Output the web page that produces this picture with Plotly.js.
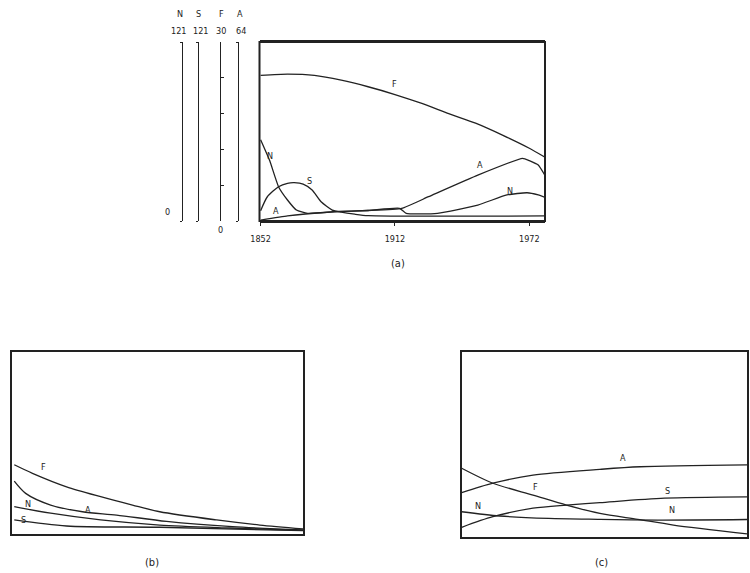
<!DOCTYPE html>
<html>
<head>
<meta charset="utf-8">
<script src="https://cdn.plot.ly/plotly-3.0.1.min.js"></script>
<style>
  html, body { margin: 0; padding: 0; background: #ffffff; }
  #chart { width: 750px; height: 573px; }
</style>
</head>
<body>
<div id="chart"></div>
<script>
// ---- Panel (a): historical series, each on its own vertical scale ----
const yearsNa = [1852, 1856, 1860, 1864, 1868, 1873, 1885, 1900, 1914, 1917, 1931, 1949, 1962, 1971, 1976, 1979];
const valuesNa = [55, 41, 23.2, 14.2, 7.4, 5.2, 6.3, 7.1, 8.6, 5.2, 5.2, 10.8, 17.6, 19.1, 17.6, 16.0];

const yearsSa = [1852, 1855, 1860, 1864, 1867, 1871, 1875, 1879, 1884, 1888, 1894, 1900, 1979];
const valuesSa = [7, 16.4, 23.2, 25.5, 25.9, 25.0, 21.0, 13.0, 7.4, 6.0, 4.6, 3.6, 3.4];

const yearsFa = [1852, 1864, 1876, 1888, 1900, 1912, 1924, 1936, 1948, 1960, 1972, 1979];
const valuesFa = [24.4, 24.6, 24.4, 23.6, 22.5, 21.2, 19.7, 18.0, 16.4, 14.4, 12.2, 10.7];

const yearsAa = [1852, 1864, 1872, 1885, 1900, 1915, 1927, 1949, 1969, 1972, 1976, 1979];
const valuesAa = [0.3, 1.8, 2.5, 3.3, 3.75, 4.5, 8.7, 16.4, 22.4, 21.6, 20.0, 16.3];

// full-scale value of each series axis
const scaleNames = ["N", "S", "F", "A"];
const scaleMax = [121, 121, 30, 64];
const yearTicks = [1852, 1912, 1972];

// ---- Panel (b) ----
const yearsFb = [1852, 1860, 1875, 1890, 1904, 1916, 1941, 1960, 1979];
const valuesFb = [38, 33.3, 25.9, 20.5, 15.9, 12.2, 7.7, 4.9, 2.8];
const yearsAb = [1852, 1857, 1868, 1882, 1897, 1919, 1948, 1979];
const valuesAb = [29, 22.3, 15.9, 12.2, 10.4, 6.9, 4.0, 2.2];
const yearsNb = [1852, 1868, 1890, 1916, 1947, 1979];
const valuesNb = [15.0, 11.4, 7.7, 4.9, 3.3, 2.0];
const yearsSb = [1852, 1875, 1916, 1979];
const valuesSb = [7.7, 4.4, 3.7, 1.8];

// ---- Panel (c) ----
const yearsFc = [1851, 1865, 1883, 1898, 1913, 1930, 1946, 1979];
const valuesFc = [37.0, 28.9, 22.5, 17.1, 12.6, 9.4, 6.3, 1.5];
const yearsAc = [1851, 1865, 1883, 1913, 1931, 1979];
const valuesAc = [23.8, 28.9, 33.3, 36.4, 37.8, 38.8];
const yearsSc = [1851, 1865, 1883, 1898, 1913, 1942, 1979];
const valuesSc = [5.1, 10.8, 15.4, 17.1, 18.4, 20.8, 21.5];
const yearsNc = [1851, 1868, 1890, 1913, 1939, 1979];
const valuesNc = [13.5, 11.2, 9.9, 9.4, 9.0, 9.3];

const INK = "#222222";
const W = 750, H = 573;
const px = x => x / W;
const py = y => 1 - y / H;
const FONT = "DejaVu Sans Condensed, DejaVu Sans, sans-serif";

function line(x, y, xa, ya, smooth) {
  return {
    x: x, y: y, xaxis: xa, yaxis: ya, type: "scatter", mode: "lines",
    line: { color: INK, width: 1.3, shape: "spline", smoothing: smooth },
    hoverinfo: "skip", showlegend: false, cliponaxis: true
  };
}

// F lives on the base axis of panel (a); N, S and A overlay it
const traces = [
  line(yearsFa, valuesFa, "x", "y", 0.6),
  line(yearsNa, valuesNa, "x", "y2", 0.5),
  line(yearsSa, valuesSa, "x", "y3", 0.6),
  line(yearsAa, valuesAa, "x", "y4", 0.4),
  line(yearsFb, valuesFb, "x2", "y6", 0.8),
  line(yearsAb, valuesAb, "x2", "y6", 0.8),
  line(yearsNb, valuesNb, "x2", "y6", 0.8),
  line(yearsSb, valuesSb, "x2", "y6", 0.8),
  line(yearsFc, valuesFc, "x3", "y7", 0.8),
  line(yearsAc, valuesAc, "x3", "y7", 0.8),
  line(yearsSc, valuesSc, "x3", "y7", 0.8),
  line(yearsNc, valuesNc, "x3", "y7", 0.8)
];

const frame = {
  showline: true, mirror: true, linecolor: INK, linewidth: 2,
  showgrid: false, zeroline: false, ticks: "", showticklabels: false, fixedrange: true
};

// vertical scale bars standing left of panel (a)
const scaleX = [182.3, 198.3, 220, 238.3];
function scaleAxis(i, base) {
  const isF = scaleNames[i] === "F";
  const ax = {
    anchor: "free", position: px(scaleX[i]), side: "left",
    range: [0, scaleMax[i]], showline: true, linecolor: INK, linewidth: 1.1,
    showgrid: false, zeroline: false, showticklabels: false,
    tickmode: "array",
    tickvals: isF ? [0, 6, 12, 18, 24, 30] : [0, scaleMax[i]],
    ticks: isF ? "inside" : "outside", ticklen: isF ? 3 : 2, tickwidth: 1, tickcolor: INK,
    fixedrange: true
  };
  if (base) ax.domain = [py(221), py(42)];
  else ax.overlaying = "y";
  return ax;
}

const layout = {
  width: W, height: H, autosize: false,
  margin: { l: 0, r: 0, t: 0, b: 0, pad: 0 },
  paper_bgcolor: "#ffffff", plot_bgcolor: "rgba(0,0,0,0)",
  font: { family: FONT, color: INK, size: 9 },
  showlegend: false,
  xaxis: {
    domain: [px(259.5), px(545)], range: [1851.5, 1979], anchor: "y",
    showline: true, mirror: true, linecolor: INK, linewidth: 2,
    showgrid: false, zeroline: false, fixedrange: true,
    tickmode: "array", tickvals: yearTicks, ticktext: yearTicks.map(String),
    ticks: "outside", ticklen: 3, tickcolor: INK, showticklabels: true,
    ticklabelstandoff: 5, tickfont: { size: 9, color: INK, family: FONT }
  },
  yaxis: scaleAxis(2, true),
  yaxis2: scaleAxis(0, false),
  yaxis3: scaleAxis(1, false),
  yaxis4: scaleAxis(3, false),
  xaxis2: Object.assign({}, frame, { domain: [px(12), px(303)], range: [1851, 1979], anchor: "y6" }),
  yaxis6: Object.assign({}, frame, { domain: [py(534), py(351.7)], range: [0, 100], anchor: "x2" }),
  xaxis3: Object.assign({}, frame, { domain: [px(461.7), px(747)], range: [1851, 1979], anchor: "y7" }),
  yaxis7: Object.assign({}, frame, { domain: [py(536.7), py(351.7)], range: [0, 100], anchor: "x3" }),
  // box round panel (a)
  shapes: [{
    type: "rect", xref: "x domain", yref: "y domain", x0: 0, x1: 1, y0: 0, y1: 1,
    line: { color: INK, width: 2 }, fillcolor: "rgba(0,0,0,0)", layer: "above"
  }],
  annotations: []
};

function note(text, x, y, size) {
  layout.annotations.push({
    text: text, x: px(x), y: py(y), xref: "paper", yref: "paper",
    xanchor: "center", yanchor: "middle", showarrow: false,
    font: { size: size || 9, color: INK, family: FONT }
  });
}

// scale headings and their full-scale values
const headX = [180, 199, 221, 240];
const valX = [178.5, 200, 221, 241];
scaleNames.forEach((n, i) => {
  note(n, headX[i], 14, 9);
  note(String(scaleMax[i]), valX[i], 30.5, 9);
});
note("0", 167, 212, 9);
note("0", 220, 230, 9);

// curve labels, panel (a)
note("F", 395, 84);
note("N", 270, 156);
note("S", 309, 181);
note("A", 276, 211);
note("A", 480, 165);
note("N", 510, 191);

// curve labels, panel (b)
note("F", 43, 467);
note("N", 28, 504);
note("A", 88, 510);
note("S", 23, 520);

// curve labels, panel (c)
note("A", 623, 458);
note("F", 535, 487);
note("S", 667, 491);
note("N", 478, 506);
note("N", 672, 510);

// panel captions
note("(a)", 398, 263, 11);
note("(b)", 152, 562, 11);
note("(c)", 601, 562, 11);

Plotly.newPlot("chart", traces, layout, { displayModeBar: false, staticPlot: true });
</script>
</body>
</html>
